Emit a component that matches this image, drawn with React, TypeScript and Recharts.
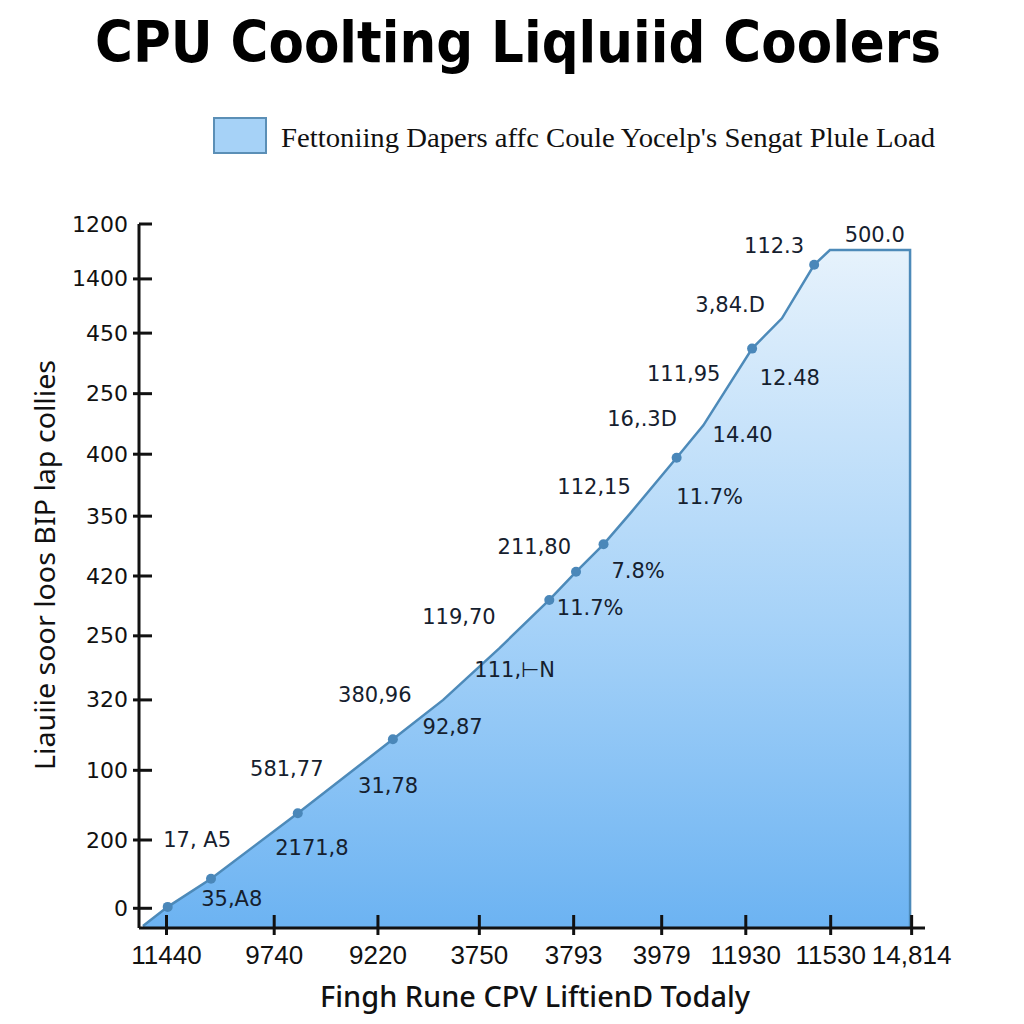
import { ComposedChart, Area, Scatter, XAxis, YAxis } from "recharts";

// Axis ticks (positions are in axis units, 0-100 on both axes)
const xTickLabels = ["11440", "9740", "9220", "3750", "3793", "3979", "11930", "11530", "14,814"];
const xTickValues = [3.5, 17.2, 30.4, 43.3, 55.3, 66.5, 77.2, 88.0, 98.3];
const yTickLabels = ["0", "200", "100", "320", "250", "420", "350", "400", "250", "450", "1400", "1200"];
const yTickValues = [2.8, 12.5, 22.4, 32.4, 41.5, 50.0, 58.5, 67.3, 75.9, 84.5, 92.2, 100];

// Load curve
const loadX = [0.5, 3.65, 9.16, 20.2, 32.3, 38.7, 45.9, 52.2, 55.6, 59.1, 62.5, 68.4, 71.8, 78.0, 81.8, 85.9, 87.9, 98.1, 98.1];
const loadY = [0.3, 3.0, 7.0, 16.3, 26.8, 32.4, 39.8, 46.6, 50.6, 54.5, 58.9, 66.8, 71.4, 82.3, 86.6, 94.2, 96.3, 96.3, 0];
const loadMarker = [false, true, true, true, true, false, false, true, true, true, false, true, false, true, false, true, false, false, false];

// Value notes scattered along the curve
const noteText = [
  "112.3", "500.0", "3,84.D", "111,95", "12.48", "16,.3D", "14.40", "112,15", "11.7%", "211,80", "7.8%",
  "119,70", "11.7%", "111,⊢N", "380,96", "92,87", "581,77", "31,78", "17, A5", "2171,8", "35,A8",
];
const noteX = [80.8, 93.6, 75.2, 69.3, 82.8, 64.0, 76.8, 57.9, 72.6, 50.3, 63.5, 40.7, 57.4, 47.8, 30.0, 39.9, 18.8, 31.7, 7.4, 22.0, 11.8];
const noteY = [96.9, 98.4, 88.5, 78.7, 78.1, 72.3, 70.0, 62.6, 61.2, 54.1, 50.7, 44.2, 45.5, 36.6, 33.1, 28.6, 22.6, 20.2, 12.5, 11.4, 4.1];

const lineData = loadX.map((x, i) => ({ x, y: loadY[i] }));
const markerData = lineData.filter((_, i) => loadMarker[i]);
const noteData = noteText.map((label, i) => ({ x: noteX[i], y: noteY[i], label }));

function YTick({ x, y, index }: any) {
  return (
    <g>
      <line x1={index === yTickValues.length - 1 ? x : x - 6} x2={x + 13} y1={y} y2={y} stroke="#111" strokeWidth={3} />
      <text x={x - 11} y={y} textAnchor="end" dominantBaseline="central" fontFamily="DejaVu Sans" fontSize={22} fill="#111">
        {yTickLabels[index]}
      </text>
    </g>
  );
}

function XTick({ x, y, index }: any) {
  return (
    <g>
      <line x1={x} x2={x} y1={y - 13} y2={y + 7} stroke="#111" strokeWidth={3} />
      <text x={x} y={y + 36} textAnchor="middle" fontFamily="'Liberation Sans Narrow', 'Liberation Sans'" fontSize={26} fill="#111">
        {xTickLabels[index]}
      </text>
    </g>
  );
}

export default function App() {
  return (
    <div style={{ position: "relative", width: 1024, height: 1024, background: "#fff" }}>
      <style>{`body{margin:0}`}</style>
      <ComposedChart
        width={1024}
        height={1024}
        data={lineData}
        margin={{ top: 224, right: 99, bottom: 36, left: 39 }}
      >
        <defs>
          <linearGradient id="loadFill" x1="0" y1="0" x2="0" y2="1">
            <stop offset="0%" stopColor="#e6f2fc" />
            <stop offset="55%" stopColor="#a6d2f8" />
            <stop offset="100%" stopColor="#6cb3f2" />
          </linearGradient>
        </defs>
        <XAxis
          dataKey="x"
          type="number"
          domain={[0, 100]}
          ticks={xTickValues}
          allowDataOverflow
          height={60}
          tickSize={0}
          tickMargin={0}
          tickLine={false}
          axisLine={{ stroke: "#111", strokeWidth: 3 }}
          tick={<XTick />}
          interval={0}
        />
        <YAxis
          type="number"
          domain={[0, 100]}
          ticks={yTickValues}
          allowDataOverflow
          width={100}
          tickSize={0}
          tickMargin={0}
          tickLine={false}
          axisLine={{ stroke: "#111", strokeWidth: 3 }}
          tick={<YTick />}
          interval={0}
        />
        <Area
          type="linear"
          dataKey="y"
          baseValue="dataMin"
          stroke="#4d8ab9"
          strokeWidth={2.5}
          fill="url(#loadFill)"
          fillOpacity={1}
          dot={false}
          activeDot={false}
          isAnimationActive={false}
        />
        <Scatter
          data={markerData}
          dataKey="y"
          isAnimationActive={false}
          shape={(p: any) => <circle cx={p.cx} cy={p.cy} r={5} fill="#4a87b9" />}
        />
        <Scatter
          data={noteData}
          dataKey="y"
          isAnimationActive={false}
          shape={(p: any) => (
            <text x={p.cx} y={p.cy} textAnchor="middle" dominantBaseline="central" fontFamily="DejaVu Sans" fontSize={21} fill="#15202e">
              {p.payload.label}
            </text>
          )}
        />
      </ComposedChart>
      <svg width={1024} height={1024} style={{ position: "absolute", left: 0, top: 0, pointerEvents: "none" }}>
        <text
          transform="translate(518,62) scale(1,1.22)"
          x={0}
          y={0}
          textAnchor="middle"
          fontFamily="DejaVu Sans"
          fontWeight="bold"
          fontSize={47}
          fill="#000"
          textLength={846}
          lengthAdjust="spacingAndGlyphs"
        >
          CPU Coolting Liqluiid Coolers
        </text>
        <rect x={214} y={118} width={52} height={35} fill="#a6d2f7" stroke="#5b8fb6" strokeWidth={2} />
        <text x={281} y={147} fontFamily="Liberation Serif" fontSize={28} fill="#111" textLength={654} lengthAdjust="spacingAndGlyphs">
          Fettoniing Dapers affc Coule Yocelp's Sengat Plule Load
        </text>
        <text transform="translate(44,565) rotate(-90)" textAnchor="middle" dominantBaseline="central" fontFamily="Noto Sans" fontSize={28} fill="#111" textLength={410} lengthAdjust="spacingAndGlyphs">
          Liauiie soor loos BIP lap collies
        </text>
        <text x={535} y={1007} textAnchor="middle" fontFamily="Noto Sans" fontWeight={500} fontSize={28} fill="#111" textLength={430} lengthAdjust="spacingAndGlyphs">
          Fingh Rune CPV LiftienD Todaly
        </text>
      </svg>
    </div>
  );
}
